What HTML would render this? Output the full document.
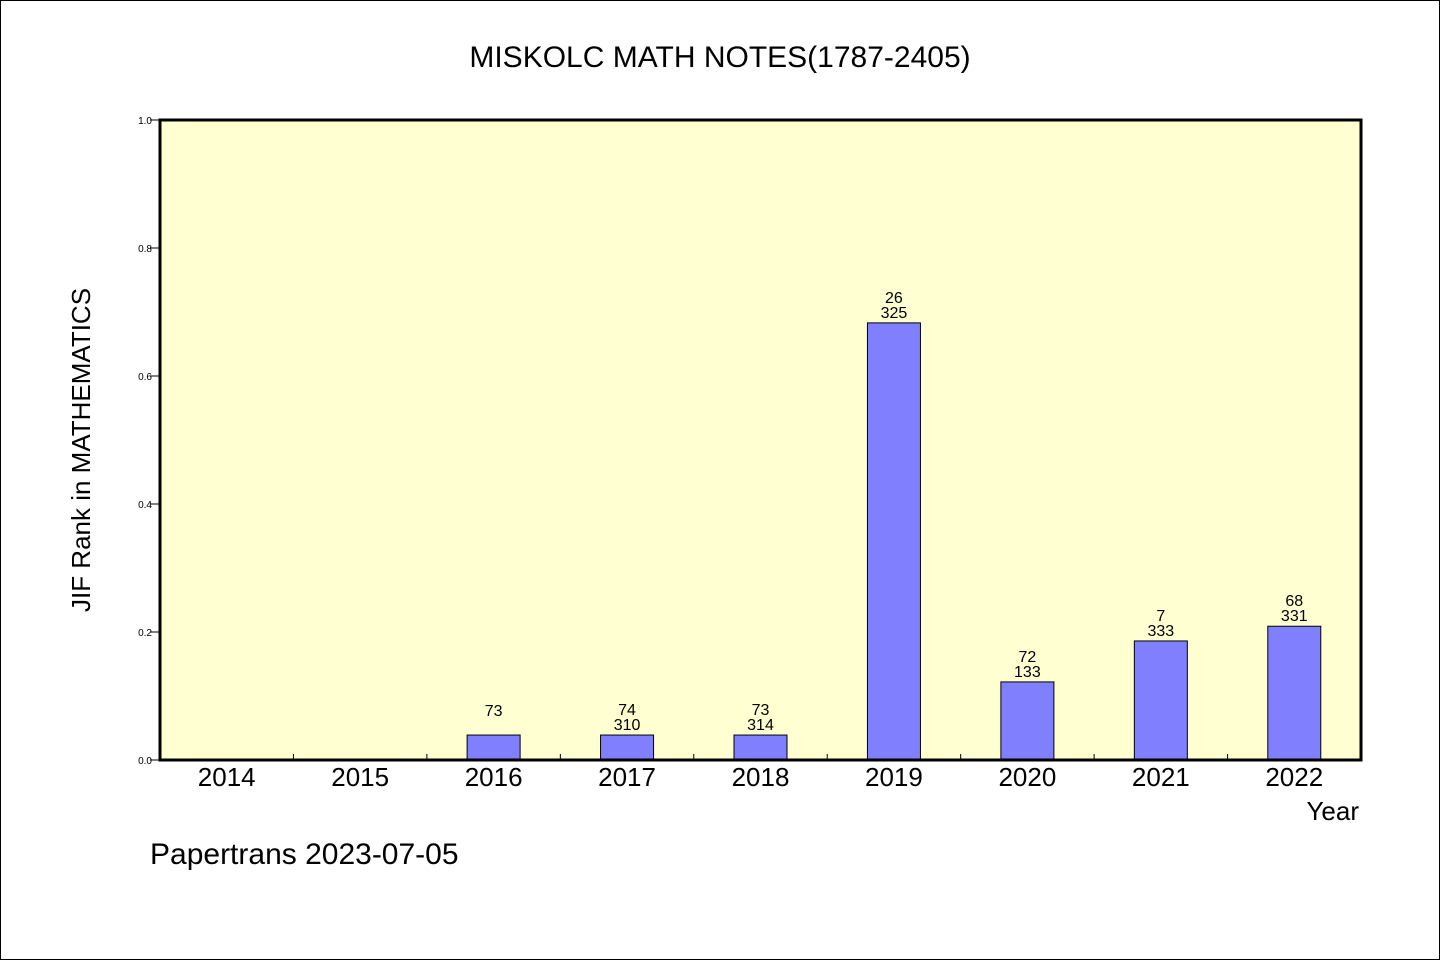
<!DOCTYPE html>
<html><head><meta charset="utf-8"><style>
body{margin:0;background:#fff}
svg{display:block;font-family:"Liberation Sans","WenQuanYi Zen Hei",sans-serif}
</style></head><body>
<svg id="c" width="1440" height="960">
<rect x="0.5" y="0.5" width="1439" height="959" fill="#fff" stroke="#000"/>
<text x="720" y="67" text-anchor="middle" font-size="30">MISKOLC MATH NOTES(1787-2405)</text>
<rect x="160" y="120" width="1201" height="640" fill="#ffffd2"/>
<g id="g"></g>
<rect x="160" y="120" width="1201" height="640" fill="none" stroke="#000" stroke-width="3"/>
<text transform="translate(90,450) rotate(-90)" text-anchor="middle" font-size="26">JIF Rank in MATHEMATICS</text>
<text x="1359" y="820" text-anchor="end" font-size="26">Year</text>
<text x="150" y="864" font-size="30">Papertrans 2023-07-05</text>
</svg>
<script>
const categories=["2014","2015","2016","2017","2018","2019","2020","2021","2022"];
const values=[0,0,0.039,0.039,0.039,0.683,0.122,0.186,0.209];
const labelTop=["","","73","74","73","26","72","7","68"];
const labelBottom=["","","","310","314","325","133","333","331"];
const yTicks=[0,0.2,0.4,0.6,0.8,1.0];
const L=160,R=1361,T=120,B=760;
const bw=(R-L)/categories.length;
const x=i=>L+bw*(i+0.5);
const y=v=>B-(B-T)*v;
const g=document.getElementById('g');
const NS="http://www.w3.org/2000/svg";
function mk(t,a){const e=document.createElementNS(NS,t);for(const k in a)e.setAttribute(k,a[k]);g.appendChild(e);return e;}
yTicks.forEach(v=>{
 const l=mk('line',{x1:150,x2:160,y1:y(v),y2:y(v),stroke:'#000'});
 
 
 const t=mk('text',{x:152,y:y(v)+4,'text-anchor':'end','font-size':10});
 t.textContent=v.toFixed(1);
 
 
});
categories.forEach((c,i)=>{
 if(i>0){const tk=mk('line',{x1:L+bw*i,x2:L+bw*i,y1:B,y2:B-6,stroke:'#000'});
 
 }
 const t=mk('text',{x:x(i),y:786,'text-anchor':'middle','font-size':26});
 t.textContent=c;
 
 
 if(values[i]>0){
  const r=mk('rect',{x:x(i)-26.5,y:y(values[i]),width:53,height:B-y(values[i]),fill:'#8080ff',stroke:'#000'});
  
  
  const top=y(values[i]);
  const hasB=labelBottom[i]!=="";
  const t1=mk('text',{x:x(i),y:hasB?top-20:top-19,'text-anchor':'middle','font-size':16});
  t1.textContent=labelTop[i];
  
  
  if(hasB){const t2=mk('text',{x:x(i),y:top-5,'text-anchor':'middle','font-size':16});
  t2.textContent=labelBottom[i];
  
  }
 }
});
</script>
</body></html>
